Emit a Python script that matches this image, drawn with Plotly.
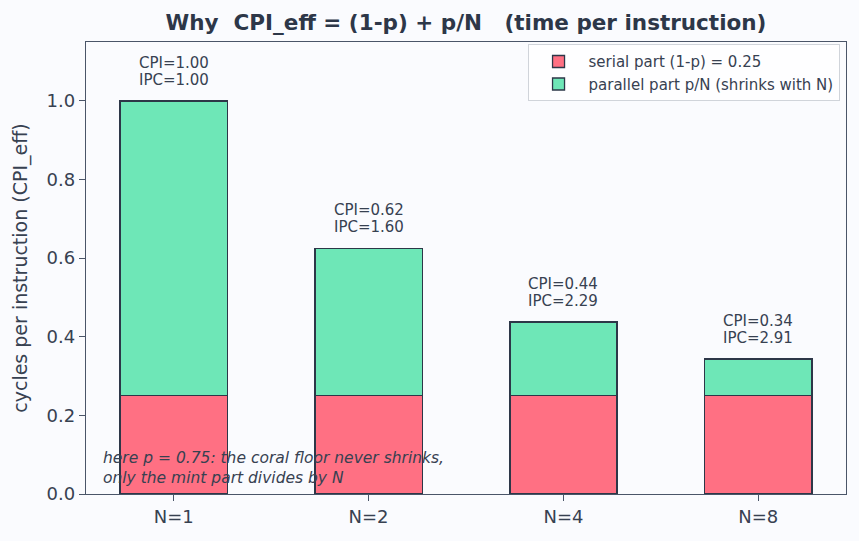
import plotly.graph_objects as go

categories = ["N=1", "N=2", "N=4", "N=8"]
serial = [0.25, 0.25, 0.25, 0.25]
parallel = [0.75, 0.375, 0.1875, 0.09375]
note_lines = ["here p = 0.75: the coral floor never shrinks,",
              "only the mint part divides by N"]

x = list(range(len(categories)))
totals = [s + p for s, p in zip(serial, parallel)]

coral = "#ff7083"
mint = "#6ee7b7"
edge = "#2d3748"
txt = "#374151"
bg = "#fafbfe"

fig = go.Figure()
fig.add_trace(go.Bar(x=x, y=serial, width=0.55, name="serial part (1-p) = 0.25",
                     marker=dict(color=coral, line=dict(color=edge, width=1.3))))
fig.add_trace(go.Bar(x=x, y=parallel, width=0.55, name="parallel part p/N (shrinks with N)",
                     marker=dict(color=mint, line=dict(color=edge, width=1.3))))

for xi, t in zip(x, totals):
    fig.add_annotation(x=xi, y=t, yanchor="middle", yshift=38, showarrow=False,
                       text=f"CPI={t:.2f}", font=dict(size=15, color=txt))
    fig.add_annotation(x=xi, y=t, yanchor="middle", yshift=21, showarrow=False,
                       text=f"IPC={1/t:.2f}", font=dict(size=15, color=txt))

fig.add_annotation(xref="paper", yref="paper", x=0.02, y=0, xanchor="left", yanchor="middle",
                   yshift=26, showarrow=False, align="left",
                   text="<i>" + "<br>".join(note_lines) + "</i>",
                   font=dict(size=15.5, color=txt))

fig.update_layout(
    barmode="stack",
    width=859, height=541,
    margin=dict(l=86, r=13, t=42, b=47),
    paper_bgcolor=bg, plot_bgcolor=bg,
    font=dict(family="DejaVu Sans", color=txt, size=18),
    title=dict(text="<b>Why  CPI_eff = (1-p) + p/N   (time per instruction)</b>",
               x=0.5425, xanchor="center", y=0.959, yanchor="middle",
               font=dict(size=21.5, color="#2d3748")),
    legend=dict(x=0.9915, y=0.995, xanchor="right", yanchor="top",
                bgcolor="rgba(255,255,255,0.8)", bordercolor="#d0d4da", borderwidth=1,
                font=dict(size=15, color=txt), tracegroupgap=0, traceorder="normal",
                itemwidth=50),
    showlegend=True,
)
fig.update_xaxes(range=[-0.45, 3.45], tickvals=x, ticktext=categories,
                 showline=True, linecolor="#4a5568", linewidth=1.3, mirror=True,
                 ticks="outside", ticklen=6, tickcolor="#4a5568", showgrid=False,
                 zeroline=False, tickfont=dict(size=18))
fig.update_yaxes(range=[0, 1.15], tickvals=[0, 0.2, 0.4, 0.6, 0.8, 1.0],
                 ticktext=["0.0", "0.2", "0.4", "0.6", "0.8", "1.0"],
                 title=dict(text="cycles per instruction (CPI_eff)", font=dict(size=19), standoff=13),
                 showline=True, linecolor="#4a5568", linewidth=1.3, mirror=True,
                 ticks="outside", ticklen=6, tickcolor="#4a5568", showgrid=False,
                 zeroline=False, tickfont=dict(size=18))

fig.write_html("out.html")
